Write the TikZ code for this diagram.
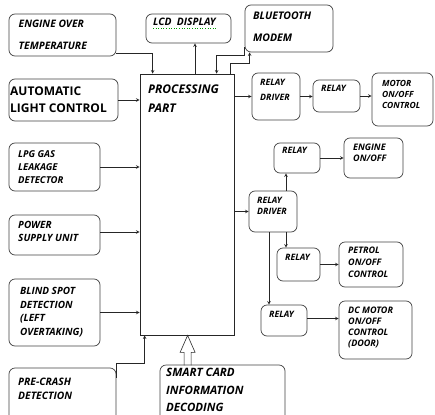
\documentclass[tikz,border=0pt]{standalone}
\usepackage{fontspec}
\setmainfont{Open Sans}

\tikzset{
  blk/.style={draw=black!75, line width=0.7pt, rounded corners=6pt, inner sep=0pt},
  txt/.style={anchor=north west, inner sep=0pt, align=left},
  fs/.style 2 args={font=\fontsize{#1}{#2}\selectfont\bfseries\itshape},
  arr/.style={-stealth, line width=0.6pt, black!85},
}

\begin{document}
\begin{tikzpicture}[x=1pt, y=-1pt]
\useasboundingbox (0,0) rectangle (435,414);
\clip (0,0) rectangle (435,414);

% the inputs
\node[blk, minimum width=107pt, minimum height=42pt] (engt) at (62.5,35) {};
\node[blk, minimum width=109pt, minimum height=42pt] (auto) at (63.5,100) {};
\node[blk, minimum width=91pt, minimum height=48pt] (lpg) at (54.5,167) {};
\node[blk, minimum width=91pt, minimum height=40pt] (psu) at (54.5,235) {};
\node[blk, minimum width=91pt, minimum height=67pt] (blind) at (54.5,312.5) {};
\node[blk, minimum width=107pt, minimum height=70pt] (crash) at (62.5,403) {};
\node[blk, minimum width=125pt, minimum height=70pt] (smart) at (222.5,400) {};

% the processing part
\node[draw=black!85, line width=0.8pt, minimum width=94pt, minimum height=261pt, inner sep=0pt] (proc) at (187,204.5) {};

% the outputs
\node[blk, minimum width=85pt, minimum height=29pt] (lcd) at (188.5,28.5) {};
\node[blk, minimum width=88pt, minimum height=47pt] (blue) at (289,28.5) {};
\node[blk, minimum width=48pt, minimum height=47pt] (drv1) at (276,96.5) {};
\node[blk, minimum width=47pt, minimum height=32pt] (rly1) at (336.5,96) {};
\node[blk, minimum width=61pt, minimum height=53pt] (motor) at (402.5,99.5) {};
\node[blk, minimum width=46pt, minimum height=30pt] (rly2) at (297,158) {};
\node[blk, minimum width=59pt, minimum height=40pt] (eng) at (373.5,158) {};
\node[blk, minimum width=48pt, minimum height=41pt] (drv2) at (273,211.5) {};
\node[blk, minimum width=43pt, minimum height=33pt] (rly3) at (298.5,264.5) {};
\node[blk, minimum width=64pt, minimum height=45pt] (petrol) at (371,264.5) {};
\node[blk, minimum width=46pt, minimum height=31pt] (rly4) at (284,320.5) {};
\node[blk, minimum width=73pt, minimum height=58pt] (dcm) at (375.5,330) {};

% the labels
\node[txt, fs={10.3}{22}] (engttxt) at (18.5,20) {ENGINE OVER\\TEMPERATURE};
\node[txt, font=\fontsize{12}{17}\selectfont\bfseries] (autotxt) at (10,87) {AUTOMATIC\\LIGHT CONTROL};
\node[txt, fs={9.5}{13.3}] (lpgtxt) at (18,150) {LPG GAS\\LEAKAGE\\DETECTOR};
\node[txt, fs={10}{13}] (psutxt) at (18,221) {POWER\\SUPPLY UNIT};
\node[txt, fs={10}{13.6}] (blindtxt) at (20,287) {BLIND SPOT\\DETECTION\\(LEFT\\OVERTAKING)};
\node[txt, fs={10.3}{14}] (crashtxt) at (18,378) {PRE-CRASH\\DETECTION};
\node[txt, fs={11.5}{17.5}] (smarttxt) at (166,368) {SMART CARD\\INFORMATION\\DECODING};
\node[txt, fs={12}{19}] (proctxt) at (148,85) {PROCESSING\\PART};
\node[txt, fs={10.3}{12}] (lcdtxt) at (153,18) {LCD\ \ DISPLAY};
\node[txt, fs={10.5}{21.5}] (bluetxt) at (253,12) {BLUETOOTH\\MODEM};
\node[txt, fs={8.8}{15}] (drv1txt) at (260,79) {RELAY\\DRIVER};
\node[txt, fs={8.8}{11}] (rly1txt) at (321,85) {RELAY};
\node[txt, fs={8.5}{11}] (motortxt) at (382,80) {MOTOR\\ON/OFF\\CONTROL};
\node[txt, fs={8.8}{11}] (rly2txt) at (282,147) {RELAY};
\node[txt, fs={9}{11}] (engtxt) at (353,144) {ENGINE\\ON/OFF};
\node[txt, fs={8.8}{10.7}] (drv2txt) at (257,197) {RELAY\\DRIVER};
\node[txt, fs={8.8}{11}] (rly3txt) at (285,254) {RELAY};
\node[txt, fs={9}{11.7}] (petroltxt) at (348,247) {PETROL\\ON/OFF\\CONTROL};
\node[txt, fs={8.8}{11}] (rly4txt) at (269,311) {RELAY};
\node[txt, fs={9}{11}] (dcmtxt) at (348,307) {DC MOTOR\\ON/OFF\\CONTROL\\(DOOR)};
\draw[green!60!black, dotted, line width=0.6pt] ([yshift=-2pt]lcdtxt.south west) -- ([yshift=-2pt]lcdtxt.south east);

% inputs into the processing part
\draw[arr] ([yshift=3pt]engt.south east) -| ([xshift=13pt]proc.north west);
\draw[arr] (auto.east) -- (auto.east -| proc.west);
\draw[arr] (lpg.east) -- (lpg.east -| proc.west);
\draw[arr] ([yshift=3pt]psu.east) -- ([yshift=3pt]psu.east -| proc.west);
\draw[arr] (blind.east) -- (blind.east -| proc.west);
\draw[arr] ([yshift=-10pt]crash.north east) -- ([yshift=4pt]crash.north east) -| ([xshift=5pt]proc.south west);
\coordinate (sc) at ([xshift=48pt]proc.south west);
\draw[line width=0.6pt, black!85, shift={(sc)}] (-3.5,30) -- (-3.5,17) -- (-7.5,17) -- (0,0) -- (7.5,17) -- (3.5,17) -- (3.5,30);

% display and modem
\draw[arr] ([xshift=8pt]proc.north) -- ([xshift=8pt]proc.north |- lcd.south);
\draw[arr] ([yshift=5pt]blue.south west) -- ([yshift=-3pt]blue.south west) -| ([xshift=77pt]proc.north west);
\draw[arr] ([xshift=91pt]proc.north west) |- ([xshift=5pt, yshift=-11pt]blue.south west) -- ([xshift=5pt]blue.south west);

% relays
\draw[arr] (proc.east |- drv1.west) -- (drv1.west);
\draw[arr] (drv1.east) -- (drv1.east -| rly1.west);
\draw[arr] (rly1.east) -- (rly1.east -| motor.west);
\draw[arr] (proc.east |- drv2.west) -- (drv2.west);
\draw[arr] ([xshift=13pt]drv2.north) -- ([xshift=13pt]drv2.north |- rly2.south);
\draw[arr] ([xshift=13pt]drv2.south) -- ([xshift=13pt]drv2.south |- rly3.north);
\draw[arr] ([xshift=-4pt]drv2.south) -- ([xshift=-4pt]drv2.south |- rly4.north);
\draw[arr] (rly2.east) -- (rly2.east -| eng.west);
\draw[arr] (rly3.east) -- (rly3.east -| petrol.west);
\draw[arr] ([yshift=2pt]rly4.east) -- ([yshift=2pt]rly4.east -| dcm.west);
\end{tikzpicture}
\end{document}
